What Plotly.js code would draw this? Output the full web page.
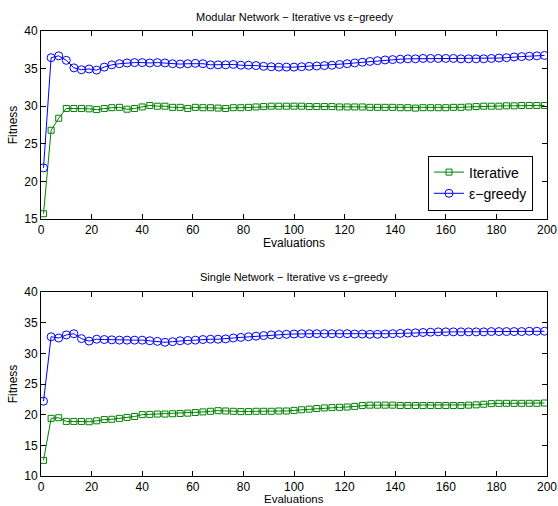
<!DOCTYPE html>
<html>
<head>
<meta charset="utf-8">
<script src="https://cdn.plot.ly/plotly-3.0.1.min.js"></script>
<style>html,body{margin:0;padding:0;background:#fff;} #chart{width:558px;height:506px;}</style>
</head>
<body>
<div id="chart"></div>
<script>
// Evaluations (x): 1, 4, 7, ..., 199
const evaluations = [1,4,7,10,13,16,19,22,25,28,31,34,37,40,43,46,49,52,55,58,61,64,67,70,73,76,79,82,85,88,91,94,
  97,100,103,106,109,112,115,118,121,124,127,130,133,136,139,142,145,148,151,154,157,160,163,166,169,172,175,178,181,184,187,190,193,196,199];

const modularIterative = [15.7,26.8,28.4,29.7,29.7,29.7,29.65,29.55,29.7,29.8,29.85,29.6,29.7,29.9,30.1,30.0,30.0,29.85,29.85,29.7,29.85,29.8,29.8,29.75,29.7,29.8,29.8,29.85,29.9,29.95,30.0,30.0,
  30.0,30.0,30.0,29.95,29.95,29.95,29.95,29.9,29.9,29.9,29.9,29.85,29.85,29.85,29.85,29.8,29.8,29.75,29.8,29.8,29.8,29.8,29.85,29.85,29.9,29.95,30.0,30.0,30.0,30.05,30.05,30.1,30.1,30.1,30.1];

const modularGreedy = [21.8,36.45,36.7,36.1,35.1,34.85,34.95,34.8,35.2,35.5,35.65,35.75,35.8,35.8,35.75,35.8,35.75,35.65,35.6,35.65,35.7,35.65,35.5,35.5,35.5,35.55,35.45,35.45,35.4,35.3,35.25,35.2,
  35.2,35.2,35.25,35.3,35.35,35.4,35.45,35.55,35.65,35.75,35.85,35.95,36.05,36.15,36.2,36.25,36.3,36.3,36.35,36.35,36.35,36.35,36.35,36.3,36.3,36.3,36.3,36.35,36.4,36.45,36.55,36.6,36.65,36.7,36.75];

const singleIterative = [12.55,19.4,19.5,18.9,18.9,18.9,18.85,19.0,19.2,19.25,19.4,19.55,19.7,20.0,20.05,20.1,20.1,20.15,20.2,20.25,20.35,20.45,20.55,20.65,20.6,20.55,20.5,20.5,20.55,20.55,20.55,20.6,
  20.6,20.7,20.8,20.9,21.0,21.1,21.15,21.2,21.25,21.35,21.5,21.55,21.55,21.55,21.55,21.5,21.5,21.5,21.5,21.5,21.5,21.5,21.5,21.5,21.55,21.6,21.7,21.8,21.85,21.85,21.85,21.85,21.85,21.85,21.9];

const singleGreedy = [22.2,32.7,32.5,33.0,33.2,32.4,32.0,32.3,32.25,32.2,32.15,32.15,32.15,32.15,32.05,31.95,31.8,31.9,32.05,32.1,32.15,32.25,32.3,32.3,32.35,32.5,32.6,32.7,32.8,32.9,33.0,33.05,
  33.1,33.15,33.2,33.2,33.2,33.2,33.2,33.2,33.2,33.15,33.15,33.1,33.1,33.15,33.2,33.25,33.3,33.35,33.4,33.45,33.5,33.5,33.5,33.5,33.5,33.5,33.5,33.55,33.55,33.55,33.55,33.55,33.6,33.6,33.6];

const xTicks = [0,20,40,60,80,100,120,140,160,180,200];
const yTicksTop = [15,20,25,30,35,40];
const yTicksBottom = [10,15,20,25,30,35,40];
const seriesNames = ['Iterative', 'ε−greedy'];
const panelTitles = ['Modular Network − Iterative vs ε−greedy', 'Single Network − Iterative vs ε−greedy'];
const xTitle = 'Evaluations';
const yTitle = 'Fitness';

const green = '#008000', blue = '#0000ff';
const font = 'Liberation Sans, Arial, Helvetica, sans-serif';

function iterTrace(y, xa, ya, show) {
  return {x: evaluations, y: y, xaxis: xa, yaxis: ya, type: 'scatter', mode: 'lines+markers',
    name: seriesNames[0], showlegend: show,
    line: {color: green, width: 1},
    marker: {symbol: 'square-open', size: 6, color: green, line: {width: 1, color: green}}};
}
function greedyTrace(y, xa, ya, show) {
  return {x: evaluations, y: y, xaxis: xa, yaxis: ya, type: 'scatter', mode: 'lines+markers',
    name: seriesNames[1], showlegend: show,
    line: {color: blue, width: 1},
    marker: {symbol: 'circle-open', size: 8, color: blue, line: {width: 1, color: blue}}};
}

const data = [
  iterTrace(modularIterative, 'x', 'y', true),
  greedyTrace(modularGreedy, 'x', 'y', true),
  iterTrace(singleIterative, 'x2', 'y2', false),
  greedyTrace(singleGreedy, 'x2', 'y2', false)
];

const W = 558, H = 506;
const xd = [41 / W, 547 / W];
const topDom = [(H - 219) / H, (H - 31) / H];
const botDom = [(H - 476) / H, (H - 292) / H];

function xaxis(anchor) {
  return {domain: xd, anchor: anchor, range: [0, 200], tickvals: xTicks,
    showline: true, mirror: 'allticks', linecolor: '#000', linewidth: 1, ticks: 'inside', ticklen: 5,
    tickcolor: '#000', showgrid: false, zeroline: false, tickfont: {size: 12, color: '#000', family: font}};
}
function yaxis(anchor, dom, range, tv) {
  return {domain: dom, anchor: anchor, range: range, tickvals: tv,
    showline: true, mirror: 'allticks', linecolor: '#000', linewidth: 1, ticks: 'inside', ticklen: 5,
    tickcolor: '#000', showgrid: false, zeroline: false, tickfont: {size: 12, color: '#000', family: font},
    title: {text: yTitle, font: {size: 12, color: '#000', family: font}, standoff: 4}};
}

function note(text, xpx, ypx, size) {
  return {text: text, xref: 'paper', yref: 'paper', x: xpx / W, y: (H - ypx) / H,
    xanchor: 'center', yanchor: 'middle', showarrow: false, font: {size: size, color: '#000', family: font}};
}

const layout = {
  width: W, height: H, margin: {l: 0, r: 0, t: 0, b: 0},
  paper_bgcolor: '#fff', plot_bgcolor: '#fff', font: {family: font, color: '#000'},
  xaxis: xaxis('y'),
  yaxis: yaxis('x', topDom, [15, 40], yTicksTop),
  xaxis2: xaxis('y2'),
  yaxis2: yaxis('x2', botDom, [10, 40], yTicksBottom),
  legend: {x: 533 / W, y: (H - 183) / H, xanchor: 'right', yanchor: 'middle',
    bgcolor: '#fff', bordercolor: '#000', borderwidth: 1,
    font: {size: 14, color: '#000', family: font}, tracegroupgap: 0, itemwidth: 30},
  annotations: [
    note(panelTitles[0], 294, 17, 11),
    note(panelTitles[1], 294, 277, 11),
    note(xTitle, 294, 243, 12),
    note(xTitle, 294, 499, 11.5)
  ],
  showlegend: true
};

Plotly.newPlot('chart', data, layout, {staticPlot: true, displayModeBar: false});
</script>
</body>
</html>
